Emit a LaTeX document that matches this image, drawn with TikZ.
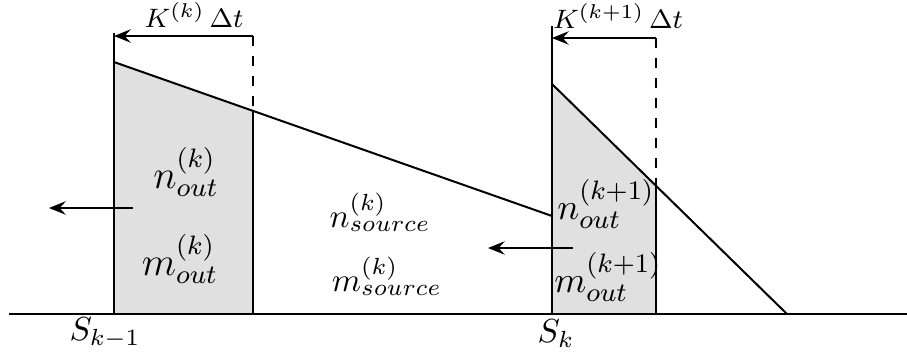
\documentclass[tikz,border=0pt]{standalone}
\usetikzlibrary{arrows.meta}
\tikzset{flux/.style={-{Stealth[length=5pt,width=4pt,inset=1.8pt]}},
  cell/.style={fill=black!12},
  outqty/.style={font=\large},
  shiftlabel/.style={font=\fontsize{8.5}{10}\selectfont}}

\begin{document}
\begin{tikzpicture}[x=0.3pt, y=-0.3pt, line width=0.6pt]
  \useasboundingbox (0,0) rectangle (907,351);
  % cell k-1 | k  (left interface)
  \coordinate (Lbot) at (114,314); \coordinate (Ltop) at (114,33);
  \coordinate (Lhi) at (114,62);
  \coordinate (Lcut) at (253,110.8); \coordinate (Lfoot) at (253,314);
  \coordinate (Ldash) at (253,36); \coordinate (Larr) at (114,36);
  % cell k | k+1  (right interface)
  \coordinate (Rbot) at (552,314); \coordinate (Rtop) at (552,26);
  \coordinate (Rlo) at (552,216); \coordinate (Rhi) at (552,84);
  \coordinate (Rcut) at (656,185.8); \coordinate (Rfoot) at (656,314);
  \coordinate (Rdash) at (656,38); \coordinate (Rarr) at (552,38);
  \coordinate (Rend) at (787,314);
  % shaded strips
  \fill[cell] (Lbot) -- (Lhi) -- (Lcut) -- (Lfoot) -- cycle;
  \fill[cell] (Rbot) -- (Rhi) -- (Rcut) -- (Rfoot) -- cycle;
  % axis and profiles
  \draw (9,314) -- (907,314);
  \draw (Lbot) -- (Ltop);
  \draw (Rbot) -- (Rtop);
  \draw (Lhi) -- (Rlo);
  \draw (Rhi) -- (Rend);
  \draw (Lcut) -- (Lfoot);
  \draw (Rcut) -- (Rfoot);
  \draw[dashed] (Ldash) -- (Lcut);
  \draw[dashed] (Rdash) -- (Rcut);
  % displacement over one step
  \draw[flux] (Ldash) -- (Larr);
  \draw[flux] (Rdash) -- (Rarr);
  \node[shiftlabel] (kl) at (194,15) {$K^{(k)}\,\Delta t$};
  \node[shiftlabel] (kr) at (618,16) {$K^{(k+1)}\,\Delta t$};
  % fluxes leaving the cells
  \coordinate (fl1) at (133,208); \coordinate (fl0) at (49,208);
  \coordinate (fr1) at (573,248); \coordinate (fr0) at (488,248);
  \draw[flux] (fl1) -- (fl0);
  \draw[flux] (fr1) -- (fr0);
  % quantities
  \node[outqty] (nok) at (186,172) {$n_{out}^{(k)}$};
  \node[outqty] (mok) at (180,259) {$m_{out}^{(k)}$};
  \node (nsk) at (380,212) {$n_{source}^{(k)}$};
  \node (msk) at (387,276) {$m_{source}^{(k)}$};
  \node[font=\fontsize{11}{13}\selectfont] (nok1) at (606,204) {$n_{out}^{(k+1)}$};
  \node[font=\fontsize{11}{13}\selectfont] (mok1) at (608,277) {$m_{out}^{(k+1)}$};
  \node (skm) at (105,333) {$S_{k-1}$};
  \node (sk) at (556,334) {$S_k$};
\end{tikzpicture}
\end{document}
